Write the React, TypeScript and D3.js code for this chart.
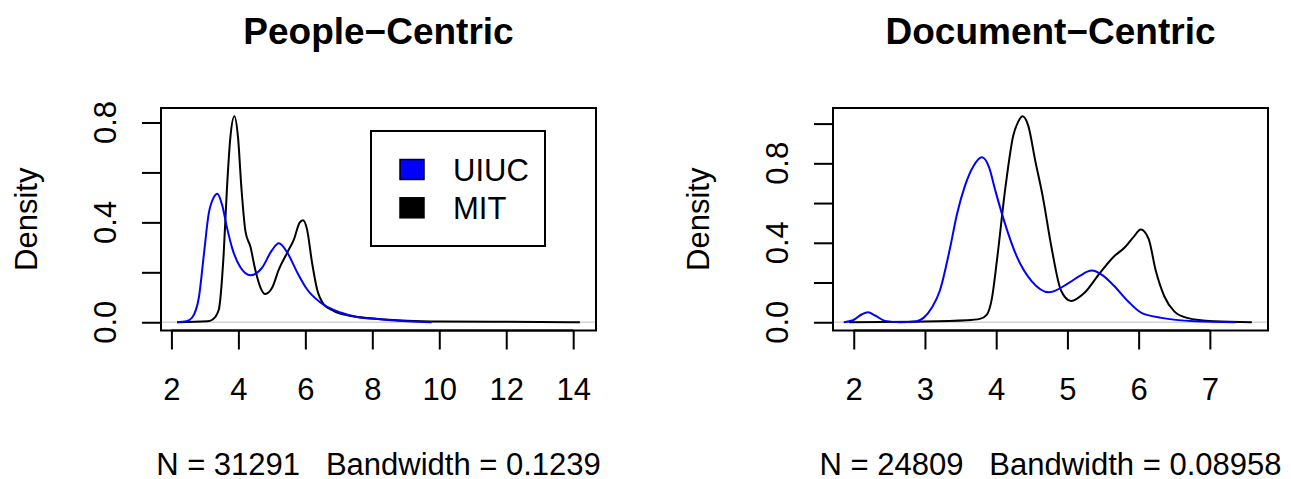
import React, { useEffect, useRef } from 'react';
import * as d3 from 'd3';

// People-Centric densities
const peopleMitX = [2.17, 3.07, 3.22, 3.41, 3.56, 3.66, 3.76, 3.88, 3.99, 4.09, 4.21, 4.36, 4.51, 4.66, 4.8, 5.01, 5.21, 5.46, 5.66, 5.83, 5.93, 6.05, 6.2, 6.35, 6.55, 6.85, 7.25, 8.04, 9.04, 10.04, 12.03, 14.2];
const peopleMitY = [0, 0.004, 0.01, 0.048, 0.272, 0.539, 0.739, 0.825, 0.739, 0.539, 0.365, 0.302, 0.207, 0.139, 0.113, 0.139, 0.212, 0.279, 0.332, 0.399, 0.408, 0.372, 0.239, 0.132, 0.072, 0.045, 0.028, 0.015, 0.006, 0.003, 0.002, 0];
const peopleUiucX = [2.17, 2.45, 2.62, 2.82, 2.97, 3.11, 3.26, 3.37, 3.51, 3.66, 3.81, 4.06, 4.36, 4.71, 5.0, 5.21, 5.46, 5.76, 6.05, 6.45, 7.05, 7.55, 8.24, 9.04, 9.77];
const peopleUiucY = [0, 0.004, 0.019, 0.099, 0.272, 0.432, 0.499, 0.515, 0.472, 0.379, 0.299, 0.22, 0.188, 0.219, 0.288, 0.316, 0.279, 0.199, 0.132, 0.079, 0.039, 0.021, 0.012, 0.004, 0];

// Document-Centric densities
const docMitX = [1.935, 2.88, 3.59, 3.77, 3.87, 3.94, 4.01, 4.13, 4.24, 4.31, 4.37, 4.45, 4.55, 4.65, 4.78, 4.91, 5.05, 5.24, 5.45, 5.65, 5.8, 5.93, 6.03, 6.14, 6.24, 6.36, 6.5, 6.68, 7.05, 7.59];
const docMitY = [0, 0.003, 0.01, 0.017, 0.039, 0.12, 0.31, 0.68, 0.94, 1.01, 1.037, 0.99, 0.81, 0.64, 0.37, 0.16, 0.107, 0.148, 0.245, 0.33, 0.375, 0.43, 0.467, 0.42, 0.26, 0.131, 0.055, 0.022, 0.005, 0];
const docUiucX = [1.86, 1.99, 2.11, 2.2, 2.3, 2.44, 2.65, 2.88, 2.98, 3.1, 3.21, 3.35, 3.45, 3.56, 3.68, 3.8, 3.9, 3.99, 4.12, 4.29, 4.5, 4.74, 5.02, 5.18, 5.34, 5.5, 5.65, 5.85, 6.04, 6.32, 6.79, 7.36];
const docUiucY = [0, 0.01, 0.039, 0.05, 0.034, 0.007, 0, 0.005, 0.022, 0.075, 0.16, 0.37, 0.545, 0.685, 0.785, 0.83, 0.78, 0.66, 0.5, 0.33, 0.206, 0.151, 0.198, 0.235, 0.26, 0.235, 0.185, 0.106, 0.047, 0.022, 0.005, 0];

const peopleXTicks = [2, 4, 6, 8, 10, 12, 14];
const docXTicks = [2, 3, 4, 5, 6, 7];
const peopleYTicks = [0, 0.2, 0.4, 0.6, 0.8];
const docYTicks = [0, 0.2, 0.4, 0.6, 0.8, 1.0];
const yTickLabels = [0, 0.4, 0.8];

const legendNames = ['UIUC', 'MIT'];
const legendColors = ['#0000ff', '#000000'];

const FONT = '"Liberation Sans", Arial, Helvetica, sans-serif';

const zip = (xs, ys) => xs.map((x, i) => [x, ys[i]]);

const panels = [
  {
    title: 'People\u2212Centric',
    note: 'N = 31291\u00a0\u00a0\u00a0Bandwidth = 0.1239',
    box: { left: 161, right: 596, top: 108, bottom: 330.5 },
    mit: zip(peopleMitX, peopleMitY),
    uiuc: zip(peopleUiucX, peopleUiucY),
    xTicks: peopleXTicks,
    yTicks: peopleYTicks,
    legend: true
  },
  {
    title: 'Document\u2212Centric',
    note: 'N = 24809\u00a0\u00a0\u00a0Bandwidth = 0.08958',
    box: { left: 833, right: 1268, top: 108, bottom: 330.5 },
    mit: zip(docMitX, docMitY),
    uiuc: zip(docUiucX, docUiucY),
    xTicks: docXTicks,
    yTicks: docYTicks,
    legend: false
  }
];

// R-style 4% axis extension
const extend = ([a, b]) => {
  const p = (b - a) * 0.04;
  return [a - p, b + p];
};

const App = () => {
  const svgRef = useRef();

  useEffect(() => {
    const svg = d3.select(svgRef.current);
    svg.selectAll('*').remove();

    panels.forEach(p => {
      const { box } = p;
      const g = svg.append('g');

      const x = d3.scaleLinear()
        .domain(extend(d3.extent(p.mit, d => d[0])))
        .range([box.left, box.right]);
      const y = d3.scaleLinear()
        .domain(extend([0, d3.max(p.mit, d => d[1])]))
        .range([box.bottom, box.top]);

      const line = d3.line()
        .x(d => x(d[0]))
        .y(d => y(d[1]))
        .curve(d3.curveMonotoneX);

      // zero line
      g.append('line')
        .attr('x1', box.left).attr('x2', box.right)
        .attr('y1', y(0)).attr('y2', y(0))
        .attr('stroke', '#d4d4d4')
        .attr('stroke-width', 1.6);

      g.append('path')
        .datum(p.mit)
        .attr('d', line)
        .attr('fill', 'none')
        .attr('stroke', '#000')
        .attr('stroke-width', 2);

      g.append('path')
        .datum(p.uiuc)
        .attr('d', line)
        .attr('fill', 'none')
        .attr('stroke', '#0000ff')
        .attr('stroke-width', 2);

      // box
      g.append('rect')
        .attr('x', box.left).attr('y', box.top)
        .attr('width', box.right - box.left)
        .attr('height', box.bottom - box.top)
        .attr('fill', 'none')
        .attr('stroke', '#000')
        .attr('stroke-width', 2);

      // X axis
      const xAxis = g.append('g')
        .attr('transform', `translate(0,${box.bottom})`)
        .call(d3.axisBottom(x).tickValues(p.xTicks).tickSize(19).tickSizeOuter(0).tickFormat(d3.format('d')));
      xAxis.select('.domain').remove();
      xAxis.append('line')
        .attr('x1', x(p.xTicks[0])).attr('x2', x(p.xTicks[p.xTicks.length - 1]))
        .attr('stroke', '#000').attr('stroke-width', 2);
      xAxis.selectAll('.tick line').attr('stroke', '#000').attr('stroke-width', 2);
      xAxis.selectAll('.tick text')
        .attr('y', 399.5 - box.bottom)
        .attr('dy', null)
        .attr('fill', '#000')
        .style('font-family', FONT)
        .style('font-size', '31px');

      // Y axis
      const yAxis = g.append('g')
        .attr('transform', `translate(${box.left},0)`)
        .call(d3.axisLeft(y).tickValues(p.yTicks).tickSize(19).tickSizeOuter(0).tickFormat(''));
      yAxis.select('.domain').remove();
      yAxis.append('line')
        .attr('y1', y(p.yTicks[0])).attr('y2', y(p.yTicks[p.yTicks.length - 1]))
        .attr('stroke', '#000').attr('stroke-width', 2);
      yAxis.selectAll('.tick line').attr('stroke', '#000').attr('stroke-width', 2);

      g.selectAll('.ylab')
        .data(yTickLabels)
        .join('text')
        .attr('class', 'ylab')
        .attr('transform', d => `translate(${box.left - 45},${y(d)}) rotate(-90)`)
        .attr('text-anchor', 'middle')
        .style('font-family', FONT)
        .style('font-size', '31px')
        .text(d => d3.format('.1f')(d));

      g.append('text')
        .attr('transform', `translate(${box.left - 124},${(box.top + box.bottom) / 2}) rotate(-90)`)
        .attr('text-anchor', 'middle')
        .style('font-family', FONT)
        .style('font-size', '31px')
        .text('Density');

      // Title
      g.append('text')
        .attr('x', (box.left + box.right) / 2)
        .attr('y', 43.5)
        .attr('text-anchor', 'middle')
        .style('font-family', FONT)
        .style('font-size', '37px')
        .style('font-weight', 'bold')
        .text(p.title);

      // N / bandwidth
      g.append('text')
        .attr('x', (box.left + box.right) / 2)
        .attr('y', 474.5)
        .attr('text-anchor', 'middle')
        .style('font-family', FONT)
        .style('font-size', '31px')
        .text(p.note);

      if (p.legend) {
        const lx = box.left + 210;
        const ly = box.top + 23;
        const lg = g.append('g').attr('transform', `translate(${lx},${ly})`);
        lg.append('rect')
          .attr('width', 174).attr('height', 115)
          .attr('fill', '#fff')
          .attr('stroke', '#000')
          .attr('stroke-width', 2);
        legendNames.forEach((name, i) => {
          lg.append('rect')
            .attr('x', 29).attr('y', 28.5 + i * 38.3)
            .attr('width', 24).attr('height', 20)
            .attr('fill', legendColors[i])
            .attr('stroke', '#000')
            .attr('stroke-width', 1.5);
          lg.append('text')
            .attr('x', 82).attr('y', 50 + i * 38.3)
            .style('font-family', FONT)
            .style('font-size', '31px')
            .text(name);
        });
      }
    });
  }, []);

  return (
    <svg
      ref={svgRef}
      width={1291}
      height={479}
      style={{ position: 'absolute', left: 0, top: 0, background: '#fff' }}
    />
  );
};

export default App;
